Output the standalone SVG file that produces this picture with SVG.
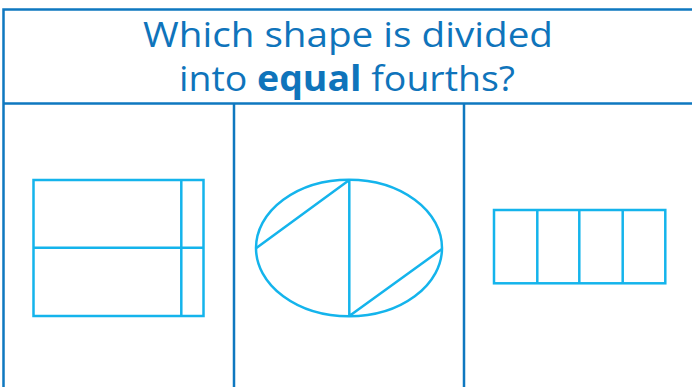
<svg xmlns="http://www.w3.org/2000/svg" width="692" height="387" viewBox="0 0 692 387">
<style>
.frame{fill:none;stroke:#0f78c0;stroke-width:2.5}
.shape{fill:none;stroke:#14b4ec;stroke-width:2.5}
.title{font-family:"Open Sans",Lato,sans-serif;font-size:35px;fill:#0f74bb;text-anchor:middle}
</style>
<rect width="692" height="387" fill="#fff"/>
<g id="frame">
<path class="frame" d="M694 9.5H3.5V390M3.5 103.5H694M234 103.5V390M464 103.5V390"/>
</g>
<g id="title">
<text class="title" x="348" y="47" textLength="410" lengthAdjust="spacingAndGlyphs">Which shape is divided</text>
<text class="title" x="347" y="91" textLength="336" lengthAdjust="spacingAndGlyphs">into <tspan font-weight="bold">equal</tspan> fourths?</text>
</g>
<g id="shape-rect-halves">
<rect class="shape" x="33.5" y="180" width="170" height="136"/>
<path class="shape" d="M33.5 247.7H203.5M181.3 180V316"/>
</g>
<g id="shape-ellipse">
<ellipse class="shape" cx="349" cy="248" rx="93" ry="68.3"/>
<path class="shape" d="M349.3 180V316M349.3 180L256 248.3M349.3 316L442 249"/>
</g>
<g id="shape-rect-fourths">
<rect class="shape" x="494" y="210" width="171.3" height="73.3"/>
<path class="shape" d="M537.3 210V283.3M579.3 210V283.3M622.7 210V283.3"/>
</g>
</svg>
